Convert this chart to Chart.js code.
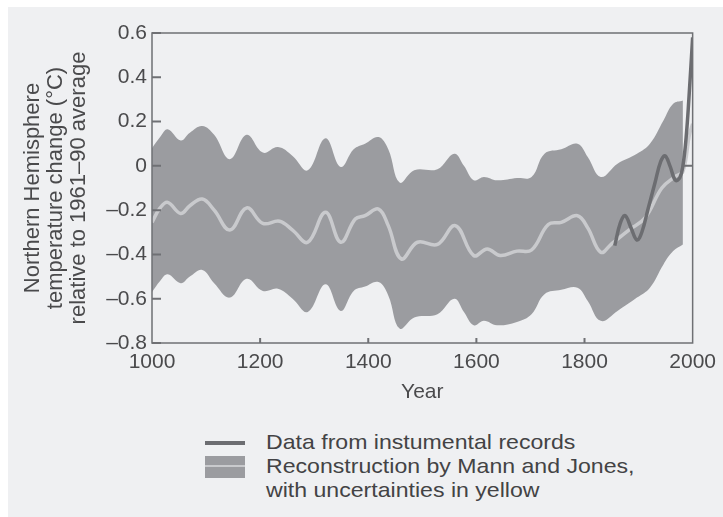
<!DOCTYPE html>
<html>
<head>
<meta charset="utf-8">
<script src="https://cdn.jsdelivr.net/npm/chart.js@4.4.1/dist/chart.umd.min.js"></script>
<style>
  html, body { margin: 0; padding: 0; background: #fff; }
  #frame {
    position: absolute; left: 8px; top: 7px; width: 715px; height: 510px;
    background: #eff0f2; font-family: 'Liberation Sans', Arial, sans-serif; color: #434345;
  }
  #chart { position: absolute; left: 0; top: 0; }
  .key-line { position: absolute; left: 197px; top: 434px; width: 40px; height: 4px; background: #6c6d71; }
  .key-band { position: absolute; left: 197px; top: 449px; width: 40px; height: 22px; background: #9b9ca0; }
  .key-band::after { content: ''; position: absolute; left: 0; right: 0; top: 9px; height: 2px; background: #c9cacd; }
  .key-text {
    position: absolute; left: 258px; top: 423px; font-size: 21px; line-height: 24px;
    transform: scaleX(1.1); transform-origin: left top; white-space: nowrap;
  }
</style>
</head>
<body>
<div id="frame">
  <canvas id="chart" width="715" height="410"></canvas>
  <div class="key-line"></div>
  <div class="key-band"></div>
  <div class="key-text">Data from instumental records<br>Reconstruction by Mann and Jones,<br>with uncertainties in yellow</div>
</div>
<script>
// Ejes
const xTicks = [1000, 1200, 1400, 1600, 1800, 2000];
const yTicks = [-0.8, -0.6, -0.4, -0.2, 0, 0.2, 0.4, 0.6];

// Banda de incertidumbre
const bandYears = [1000, 1015, 1029, 1053, 1070, 1093, 1115, 1144, 1175, 1205, 1233, 1260, 1288, 1321,
  1349, 1373, 1394, 1419, 1437, 1458, 1485, 1528, 1559, 1577, 1595, 1614, 1638, 1675, 1702, 1726,
  1757, 1787, 1806, 1830, 1861, 1897, 1921, 1946, 1964, 1982];
const bandUpper = [0.08, 0.13, 0.165, 0.115, 0.15, 0.18, 0.14, 0.03, 0.14, 0.06, 0.085, 0.045, -0.02, 0.125,
  -0.005, 0.075, 0.10, 0.13, 0.075, -0.075, -0.02, -0.015, 0.055, 0.0, -0.065, -0.05, -0.065, -0.055, -0.05, 0.055,
  0.075, 0.10, 0.04, -0.05, 0.01, 0.055, 0.10, 0.205, 0.28, 0.295];
const bandLower = [-0.57, -0.52, -0.49, -0.53, -0.50, -0.47, -0.53, -0.595, -0.51, -0.565, -0.555, -0.60, -0.66, -0.535,
  -0.655, -0.565, -0.545, -0.525, -0.585, -0.735, -0.685, -0.67, -0.60, -0.66, -0.72, -0.70, -0.72, -0.705, -0.67, -0.58,
  -0.56, -0.55, -0.61, -0.70, -0.655, -0.595, -0.55, -0.445, -0.385, -0.355];

// Reconstrucción Mann & Jones (línea clara)
const reconYears = [1000, 1015, 1029, 1053, 1070, 1093, 1115, 1144, 1175, 1205, 1236, 1260, 1288, 1321,
  1349, 1376, 1394, 1419, 1437, 1461, 1491, 1528, 1561, 1595, 1620, 1644, 1675, 1702, 1733, 1757,
  1787, 1806, 1830, 1851, 1882, 1912, 1943, 1967, 1982, 1994, 2000];
const reconTemps = [-0.255, -0.19, -0.165, -0.215, -0.18, -0.15, -0.20, -0.29, -0.19, -0.26, -0.25, -0.29, -0.345, -0.21,
  -0.345, -0.24, -0.225, -0.195, -0.27, -0.42, -0.345, -0.355, -0.27, -0.405, -0.375, -0.405, -0.385, -0.38, -0.265, -0.255,
  -0.225, -0.28, -0.39, -0.35, -0.29, -0.235, -0.10, -0.05, -0.025, 0.14, 0.19];

// Registros instrumentales (línea oscura)
const instYears = [1856, 1866, 1875, 1886, 1897, 1906, 1918, 1930, 1941, 1949, 1958, 1968, 1976, 1982, 1988, 1993, 2000];
const instTemps = [-0.36, -0.26, -0.225, -0.28, -0.335, -0.30, -0.19, -0.08, 0.02, 0.045, 0.0, -0.065, -0.055, 0.0, 0.13, 0.30, 0.58];

const pts = (xs, ys) => xs.map((x, i) => ({ x, y: ys[i] }));

const textColor = '#4a4a4c';
const fontFamily = "'Liberation Sans', Arial, sans-serif";

/** Marco completo y marcas de graduación hacia dentro. */
const framePlugin = {
  id: 'frame',
  afterDatasetsDraw(chart) {
    const { ctx, chartArea: a, scales: { x, y } } = chart;
    ctx.save();
    ctx.strokeStyle = '#6f7074';
    ctx.lineWidth = 1.5;
    ctx.strokeRect(a.left, a.top, a.right - a.left, a.bottom - a.top);
    ctx.lineWidth = 2;
    ctx.beginPath();
    yTicks.forEach((v) => {
      const py = y.getPixelForValue(v);
      ctx.moveTo(a.left, py);
      ctx.lineTo(a.left + 9, py);
    });
    xTicks.slice(1, -1).forEach((v) => {
      const px = x.getPixelForValue(v);
      ctx.moveTo(px, a.bottom);
      ctx.lineTo(px, a.bottom - 5);
    });
    const p0 = y.getPixelForValue(0);
    ctx.moveTo(a.right, p0);
    ctx.lineTo(a.right - 9, p0);
    ctx.stroke();
    ctx.restore();
  },
};

new Chart(document.getElementById('chart'), {
  type: 'line',
  data: {
    datasets: [
      { data: pts(bandYears, bandUpper), borderColor: 'transparent', borderWidth: 0, pointRadius: 0,
        fill: '+1', backgroundColor: '#9b9ca0', tension: 0.4, order: 3 },
      { data: pts(bandYears, bandLower), borderColor: 'transparent', borderWidth: 0, pointRadius: 0,
        fill: false, tension: 0.4, order: 4 },
      { data: pts(reconYears, reconTemps), borderColor: '#c9cacd', borderWidth: 3.5, pointRadius: 0,
        fill: false, tension: 0.4, order: 2 },
      { data: pts(instYears, instTemps), borderColor: '#6c6d71', borderWidth: 3.5, pointRadius: 0,
        fill: false, tension: 0.4, order: 1 },
    ],
  },
  options: {
    responsive: false,
    animation: false,
    layout: { padding: { top: 26, right: 25, left: 0, bottom: 0 } },
    plugins: { legend: { display: false }, tooltip: { enabled: false } },
    scales: {
      x: {
        type: 'linear',
        min: 1000,
        max: 2000,
        afterBuildTicks: (s) => { s.ticks = xTicks.map((v) => ({ value: v })); },
        afterFit: (s) => { s.height = 74; },
        grid: { display: false, drawTicks: false },
        border: { display: false },
        ticks: { padding: 7, color: textColor, font: { family: fontFamily, size: 21 },
          callback: (v) => String(v), maxRotation: 0, autoSkip: false },
        title: { display: true, text: 'Year', color: textColor,
          font: { family: fontFamily, size: 21 }, padding: { bottom: 12 } },
      },
      y: {
        min: -0.8,
        max: 0.6,
        afterBuildTicks: (s) => { s.ticks = yTicks.map((v) => ({ value: v })); },
        afterFit: (s) => { s.width = 144; },
        grid: { display: false, drawTicks: false },
        border: { display: false },
        ticks: { padding: 5, color: textColor, font: { family: fontFamily, size: 21 },
          callback: (v) => (v === 0 ? '0' : (v < 0 ? '\u2013' : '') + Math.abs(v).toFixed(1)) },
        title: { display: true, color: textColor,
          text: ['Northern Hemisphere', 'temperature change (°C)', 'relative to 1961–90 average'],
          font: { family: fontFamily, size: 22, lineHeight: 1.05 }, padding: { top: 13 } },
      },
    },
  },
  plugins: [framePlugin],
});
</script>
</body>
</html>
